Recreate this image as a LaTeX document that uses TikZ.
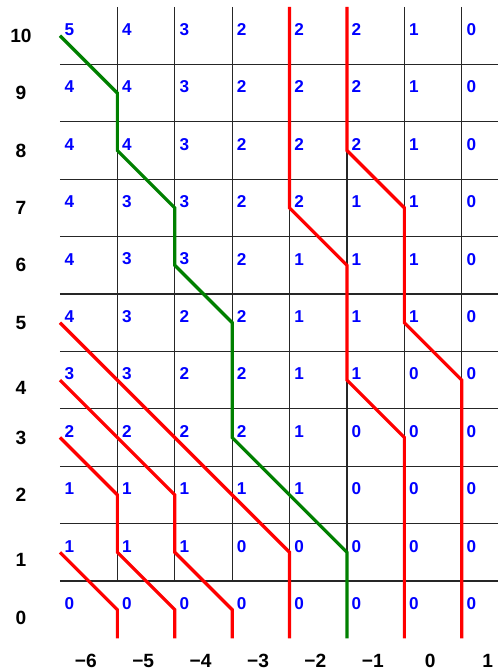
\documentclass[tikz,border=0pt]{standalone}
\usepackage{fontspec}
\setmainfont{Liberation Sans}
\begin{document}
\begin{tikzpicture}[
  gridline/.style={line width=0.6pt, black!85},
  redpath/.style={line width=1.6pt, red},
  greenpath/.style={line width=1.6pt, green!50!black},
  cellnum/.style={font=\fontsize{8.5}{10}\selectfont\bfseries, text=blue, inner sep=0pt},
  axislab/.style={font=\fontsize{9.5}{11}\selectfont\bfseries, inner sep=0pt}
]
\useasboundingbox (-7.545,-1.033) rectangle (1.131,10.622);
% grid
\foreach \y in {0.5,1.5,...,9.5} \draw[gridline] (-6.5,\y) -- (1.131,\y);
\foreach \x in {-5.5,-4.5,...,0.5} \draw[gridline] (\x,10.5) -- (\x,0.5);
% paths
\draw[greenpath] (-6.5,10) -- (-5.5,9) -- (-5.5,8) -- (-4.5,7) -- (-4.5,6) -- (-3.5,5) -- (-3.5,3) -- (-1.5,1) -- (-1.5,-0.5);
\draw[redpath] (-2.5,10.5) -- (-2.5,7) -- (-1.5,6) -- (-1.5,4) -- (-0.5,3) -- (-0.5,-0.5);
\draw[redpath] (-1.5,10.5) -- (-1.5,8) -- (-0.5,7) -- (-0.5,5) -- (0.5,4) -- (0.5,-0.5);
\draw[redpath] (-6.5,5) -- (-2.5,1) -- (-2.5,-0.5);
\draw[redpath] (-6.5,4) -- (-4.5,2) -- (-4.5,1) -- (-3.5,0) -- (-3.5,-0.5);
\draw[redpath] (-6.5,3) -- (-5.5,2) -- (-5.5,1) -- (-4.5,0) -- (-4.5,-0.5);
\draw[redpath] (-6.5,1) -- (-5.5,0) -- (-5.5,-0.5);
% cell numbers
\foreach \r/\vals in {10/{5,4,3,2,2,2,1,0}, 9/{4,4,3,2,2,2,1,0}, 8/{4,4,3,2,2,2,1,0},
  7/{4,3,3,2,2,1,1,0}, 6/{4,3,3,2,1,1,1,0}, 5/{4,3,2,2,1,1,1,0}, 4/{3,3,2,2,1,1,0,0},
  3/{2,2,2,2,1,0,0,0}, 2/{1,1,1,1,1,0,0,0}, 1/{1,1,1,0,0,0,0,0}, 0/{0,0,0,0,0,0,0,0}} {
  \foreach \v [count=\c from 1] in \vals {
    \node[cellnum] (n\r c\c) at (\c-7.334, \r+0.108) {\v};
  }
}
% row labels
\foreach \r/\yy in {10/10, 9/9, 8/8, 7/7, 6/6, 5/5, 4/3.862, 3/3, 2/2, 1/0.866, 0/-0.145} {
  \node[axislab] (row\r) at (-7.18, \yy) {\r};
}
% column labels
\foreach \k/\t [count=\i] in {-6/−6, -5/−5, -4/−4, -3/−3, -2/−2, -1/−1, 0/0, 1/1} {
  \node[axislab] (col\i) at (\k-0.05, -0.894) {\t};
}
\end{tikzpicture}
\end{document}
